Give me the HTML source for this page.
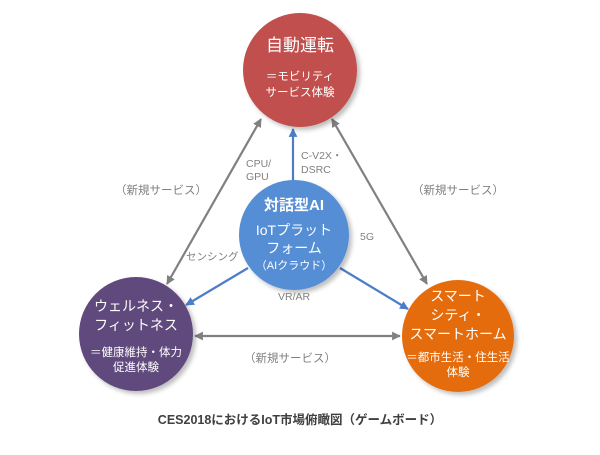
<!DOCTYPE html>
<html><head><meta charset="utf-8"><style>
body{margin:0;background:#fff;width:600px;height:450px;overflow:hidden}
svg text{font-family:"Liberation Sans","Noto Sans CJK JP",sans-serif}
</style></head><body>
<svg width="600" height="450" viewBox="0 0 600 450">
<defs>
<marker id="g" viewBox="0 0 10 10" refX="9" refY="5" markerWidth="4" markerHeight="4" orient="auto-start-reverse"><path d="M0,0L10,5L0,10z" fill="#808080"/></marker>
<marker id="b" viewBox="0 0 10 10" refX="9" refY="5" markerWidth="4" markerHeight="4" orient="auto-start-reverse"><path d="M0,0L10,5L0,10z" fill="#4a7ec8"/></marker>
<filter id="s" x="-20%" y="-20%" width="150%" height="150%"><feDropShadow dx="3" dy="3" stdDeviation="2" flood-color="#000" flood-opacity="0.25"/></filter>
</defs>
<g stroke="#808080" stroke-width="2.2" fill="none">
<line x1="261" y1="119" x2="167" y2="284" marker-start="url(#g)" marker-end="url(#g)"/>
<line x1="332" y1="119" x2="427" y2="284" marker-start="url(#g)" marker-end="url(#g)"/>
<line x1="195" y1="336" x2="400" y2="336" marker-start="url(#g)" marker-end="url(#g)"/>
</g>
<g stroke="#4a7ec8" stroke-width="2.2" fill="none">
<line x1="293" y1="182" x2="293" y2="129" marker-end="url(#b)"/>
<line x1="248" y1="268" x2="186" y2="305" marker-end="url(#b)"/>
<line x1="340" y1="268" x2="408" y2="309" marker-end="url(#b)"/>
</g>
<circle cx="300" cy="70" r="57" fill="#c0504d" filter="url(#s)"/>
<circle cx="294" cy="235" r="55" fill="#558ed5" filter="url(#s)"/>
<circle cx="136" cy="334" r="57" fill="#604a7b" filter="url(#s)"/>
<circle cx="458" cy="336" r="56" fill="#e46c0a" filter="url(#s)"/>
<g fill="#fff" text-anchor="middle">
<text x="300" y="51" font-size="17">自動運転</text>
<text x="300" y="80" font-size="11.5">＝モビリティ</text>
<text x="300" y="96" font-size="11.5">サービス体験</text>
<text x="294" y="210" font-size="15" font-weight="bold">対話型AI</text>
<text x="294" y="235" font-size="14">IoTプラット</text>
<text x="294" y="253" font-size="14">フォーム</text>
<text x="294" y="269" font-size="11">（AIクラウド）</text>
<text x="136" y="311" font-size="14">ウェルネス・</text>
<text x="136" y="330" font-size="14">フィットネス</text>
<text x="136" y="356" font-size="11.5">＝健康維持・体力</text>
<text x="136" y="371" font-size="11.5">促進体験</text>
<text x="458" y="301" font-size="14">スマート</text>
<text x="458" y="320" font-size="14">シティ・</text>
<text x="458" y="339" font-size="14">スマートホーム</text>
<text x="458" y="361" font-size="11.5">＝都市生活・住生活</text>
<text x="458" y="376" font-size="11.5">体験</text>
</g>
<g fill="#808080" font-size="10.5">
<text x="246" y="167">CPU/</text><text x="246" y="180">GPU</text>
<text x="301" y="159">C-V2X・</text><text x="301" y="173">DSRC</text>
<text x="360" y="240">5G</text>
<text x="186" y="260">センシング</text>
<text x="278" y="300">VR/AR</text>
<text x="115" y="194" font-size="11.5">（新規サービス）</text>
<text x="412" y="194" font-size="11.5">（新規サービス）</text>
<text x="244" y="362" font-size="11.5">（新規サービス）</text>
</g>
<text x="300" y="424" font-size="12.5" font-weight="bold" fill="#404040" text-anchor="middle">CES2018におけるIoT市場俯瞰図（ゲームボード）</text>
</svg>
</body></html>
